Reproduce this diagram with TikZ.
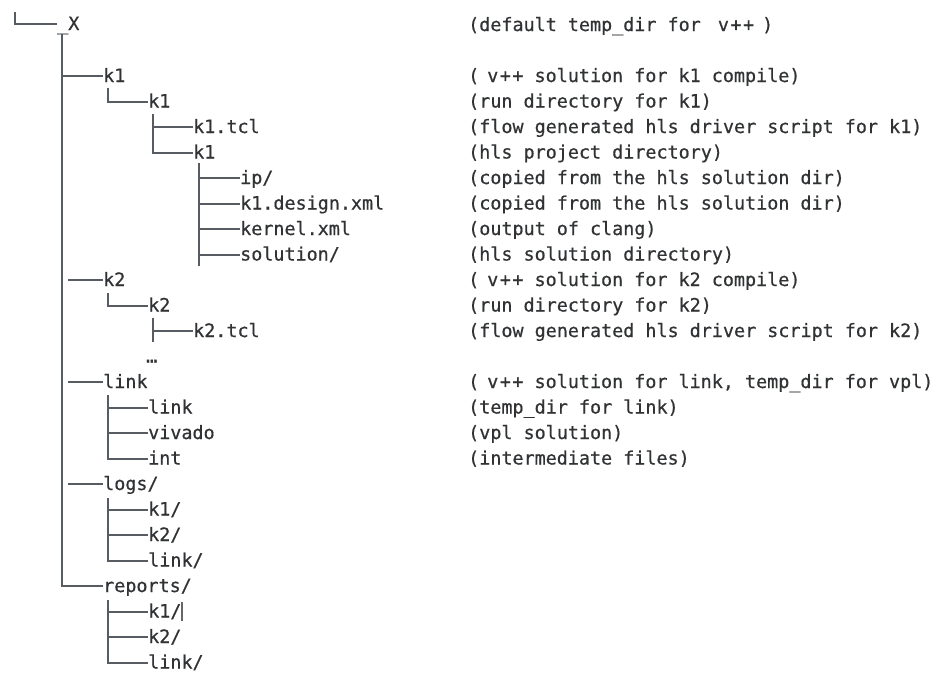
\documentclass[tikz,border=0pt]{standalone}
\usepackage{fontspec}
\newfontfamily\treemono{DejaVu Sans Mono}[FakeBold=0.6]
\newcommand\vpp{v\kern1.5pt+\kern1.5pt+}
\definecolor{txtcol}{HTML}{303234}
\definecolor{linecol}{HTML}{575C62}
\begin{document}
\begin{tikzpicture}[x=1pt,y=-1pt,
  txt/.style={inner sep=0pt, anchor=base west, font=\treemono\fontsize{18.4pt}{20pt}\selectfont, text=txtcol},
  tree/.style={draw=linecol, line width=2pt}]
\useasboundingbox (0,0) rectangle (945,673);
% ---------- tree nodes ----------
\node[txt] (root) at (57,30) {\_X};
\node[txt] (k1a) at (103,82) {k1};
\node[txt] (k1b) at (148,107.5) {k1};
\node[txt] (k1tcl) at (193,133) {k1.tcl};
\node[txt] (k1c) at (193,158.5) {k1};
\node[txt] (ip) at (240,184) {ip/};
\node[txt] (design) at (240,209.5) {k1.design.xml};
\node[txt] (kernel) at (240,235) {kernel.xml};
\node[txt] (solution) at (240,260.5) {solution/};
\node[txt] (k2a) at (103,286) {k2};
\node[txt] (k2b) at (148,311.5) {k2};
\node[txt] (k2tcl) at (193,337) {k2.tcl};
\node[txt] (dots) at (146,362.5) {…};
\node[txt] (linka) at (103,388) {link};
\node[txt] (linkb) at (148,413.5) {link};
\node[txt] (vivado) at (148,439) {vivado};
\node[txt] (int) at (148,464.5) {int};
\node[txt] (logs) at (103,490) {logs/};
\node[txt] (lk1) at (148,515.5) {k1/};
\node[txt] (lk2) at (148,541) {k2/};
\node[txt] (llink) at (148,566.5) {link/};
\node[txt] (reports) at (103,592) {reports/};
\node[txt] (rk1) at (148,617.5) {k1/};
\node[txt] (rk2) at (148,643) {k2/};
\node[txt] (rlink) at (148,668.5) {link/};
% ---------- comments ----------
\node[txt] (c0) at (468,31) {(default temp\_dir for \hspace{6pt}\vpp\hspace{8pt})};
\node[txt] (c2) at (468,82) {(\hspace{8pt}\vpp{} solution for k1 compile)};
\node[txt] (c3) at (468,107.5) {(run directory for k1)};
\node[txt] (c4) at (468,133) {(flow generated hls driver script for k1)};
\node[txt] (c5) at (468,158.5) {(hls project directory)};
\node[txt] (c6) at (468,184) {(copied from the hls solution dir)};
\node[txt] (c7) at (468,209.5) {(copied from the hls solution dir)};
\node[txt] (c8) at (468,235) {(output of clang)};
\node[txt] (c9) at (468,260.5) {(hls solution directory)};
\node[txt] (c10) at (468,286) {(\hspace{8pt}\vpp{} solution for k2 compile)};
\node[txt] (c11) at (468,311.5) {(run directory for k2)};
\node[txt] (c12) at (468,337) {(flow generated hls driver script for k2)};
\node[txt] (c14) at (468,388) {(\hspace{8pt}\vpp{} solution for link, temp\_dir for vpl)};
\node[txt] (c15) at (468,413.5) {(temp\_dir for link)};
\node[txt] (c16) at (468,439) {(vpl solution)};
\node[txt] (c17) at (468,464.5) {(intermediate files)};
% ---------- tree lines ----------
\coordinate (rc) at (15,12);
\coordinate (s0top) at (62,34);
\draw[tree] (rc) |- ([yshift=6pt]root.base west);
\draw[tree] ([yshift=6pt]reports.base west) -| (s0top);
\draw[tree] ([yshift=6pt]k1a.base west) -- ++(-41,0);
\draw[tree] ([yshift=6pt]k1b.base west) -| ++(-40,-13.5);
\draw[tree] ([yshift=6pt]k1tcl.base west) -- ++(-40,0);
\draw[tree] ([yshift=6pt]k1c.base west) -| ++(-40,-38.5);
\draw[tree] ([yshift=6pt]ip.base west) ++(-41,-15) -- ++(0,103);
\foreach \n in {ip,design,kernel,solution}
  \draw[tree] ([yshift=6pt]\n.base west) -- ++(-41,0);
\draw[tree] ([yshift=6pt]k2a.base west) -- ++(-35,0);
\draw[tree] ([yshift=6pt]k2b.base west) -| ++(-40,-12.5);
\draw[tree] ([yshift=6pt]k2tcl.base west) -- ++(-40,0);
\draw[tree] ([yshift=6pt]k2tcl.base west) ++(-40,-13) -- ++(0,24);
\draw[tree] ([yshift=6pt]linka.base west) -- ++(-35,0);
\draw[tree] ([yshift=6pt]linkb.base west) -- ++(-40,0);
\draw[tree] ([yshift=6pt]vivado.base west) -- ++(-40,0);
\draw[tree] ([yshift=6pt]int.base west) -| ++(-40,-63.5);
\draw[tree] ([yshift=6pt]logs.base west) -- ++(-35,0);
\draw[tree] ([yshift=6pt]lk1.base west) -- ++(-40,0);
\draw[tree] ([yshift=6pt]lk2.base west) -- ++(-40,0);
\draw[tree] ([yshift=6pt]llink.base west) -| ++(-40,-62.5);
\draw[tree] ([yshift=6pt]rk1.base west) -- ++(-40,0);
\draw[tree] ([yshift=6pt]rk2.base west) -- ++(-40,0);
\draw[tree] ([yshift=6pt]rlink.base west) -| ++(-40,-62.5);
% text cursor
\coordinate (cur) at (182,602);
\draw[black!60, line width=1.5pt] (cur) -- ++(0,19);
\end{tikzpicture}
\end{document}
